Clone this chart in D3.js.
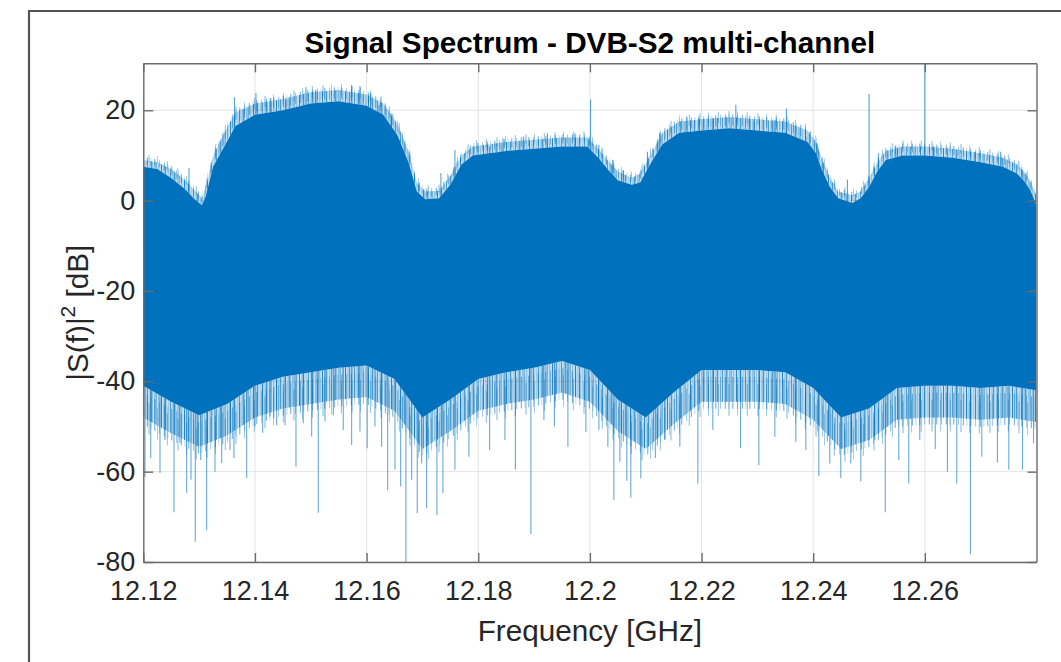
<!DOCTYPE html>
<html><head><meta charset="utf-8">
<script src="https://cdn.jsdelivr.net/npm/d3@7"></script>
<style>
html,body{margin:0;padding:0;background:#fff;}
svg{display:block;font-family:"Liberation Sans",Arial,Helvetica,sans-serif;}
</style></head><body>
<svg id="chart" width="1061" height="662"></svg>
<script>
// Axis ticks
const xTicks = [12.12, 12.14, 12.16, 12.18, 12.2, 12.22, 12.24, 12.26];
const xTickLabels = ["12.12", "12.14", "12.16", "12.18", "12.2", "12.22", "12.24", "12.26"];
const yTicks = [-80, -60, -40, -20, 0, 20];
const yTickLabels = ["-80", "-60", "-40", "-20", "0", "20"];

// Top edge of the dense spectrum band (GHz / dB) and the light tips just above it
const upperFreq = [12.1200, 12.1225, 12.1250, 12.1275, 12.1290, 12.1305, 12.1312, 12.1325, 12.1345, 12.1365,
  12.1400, 12.1450, 12.1500, 12.1550, 12.1600, 12.1630, 12.1655, 12.1675, 12.1690, 12.1705,
  12.1730, 12.1750, 12.1770, 12.1790, 12.1850, 12.1900, 12.1950, 12.1995, 12.2015, 12.2035,
  12.2050, 12.2075, 12.2090, 12.2110, 12.2130, 12.2160, 12.2200, 12.2250, 12.2300, 12.2350,
  12.2390, 12.2405, 12.2415, 12.2430, 12.2445, 12.2470, 12.2485, 12.2500, 12.2515, 12.2530,
  12.2560, 12.2600, 12.2650, 12.2700, 12.2740, 12.2765, 12.2780, 12.2790, 12.2800];
const upperDb = [7.5, 7.0, 5.0, 2.5, 0.5, -1.0, 1.0, 7.5, 12.0, 16.5,
  19.0, 20.0, 21.5, 22.0, 21.0, 19.0, 14.5, 8.5, 2.0, 0.3,
  0.5, 3.5, 8.0, 10.0, 11.0, 11.5, 12.0, 12.0, 9.5, 6.5,
  4.5, 3.5, 4.0, 8.5, 12.5, 15.0, 15.5, 16.0, 15.5, 15.0,
  13.0, 10.5, 7.0, 3.0, 0.5, -0.5, 0.5, 3.0, 6.5, 9.0,
  10.0, 10.0, 9.5, 8.5, 7.5, 6.0, 4.0, 2.0, -1.0];
const upperTipDb = [9.0, 8.5, 7.0, 4.5, 2.5, 0.5, 3.0, 10.0, 15.0, 19.5,
  21.5, 22.5, 24.0, 24.5, 23.5, 21.5, 17.0, 11.0, 4.0, 2.0,
  2.2, 5.5, 10.0, 12.0, 13.0, 13.5, 14.0, 14.0, 11.5, 8.5,
  6.5, 5.0, 6.0, 10.5, 15.0, 17.5, 18.0, 18.5, 18.0, 17.5,
  15.5, 13.0, 9.5, 5.0, 2.0, 1.2, 2.0, 5.0, 8.5, 11.0,
  12.0, 12.0, 11.5, 10.5, 9.5, 8.0, 6.0, 4.0, 1.0];

// Bottom edge of the dense band and the lower reach of the packed light traces
const lowerFreq = [12.120, 12.125, 12.130, 12.135, 12.140, 12.145, 12.150, 12.155, 12.160, 12.165,
  12.170, 12.175, 12.180, 12.185, 12.190, 12.195, 12.200, 12.205, 12.210, 12.215,
  12.220, 12.225, 12.230, 12.235, 12.240, 12.245, 12.250, 12.255, 12.260, 12.265,
  12.270, 12.275, 12.280];
const lowerDb = [-41, -44.5, -47.5, -45, -41, -39, -38, -37, -36.5, -39.5,
  -48, -44, -39.5, -38, -37, -35.5, -37.5, -44, -48, -42.5,
  -37.5, -37.5, -37.5, -38, -41.5, -48, -46, -41.5, -41, -41,
  -41.5, -41, -42];
const lowerTipDb = [-48, -51.5, -54.5, -52, -48, -46, -45, -44, -43.5, -46.5,
  -55, -51, -46.5, -45, -44, -42.5, -44.5, -51, -55, -49.5,
  -44.5, -44.5, -44.5, -45, -48.5, -55, -53, -48.5, -48, -48,
  -48.5, -48, -49];

// Isolated deep nulls (GHz, dB)
const dipSpikes = [
  [12.12030, -61.2], [12.12133, -57.0], [12.12299, -60.3], [12.12389, -53.0], [12.12550, -69.0],
  [12.12657, -53.6], [12.12777, -64.7], [12.12854, -61.8], [12.12931, -75.5], [12.13028, -57.4],
  [12.13135, -72.9], [12.13284, -60.0], [12.13404, -58.1], [12.13553, -55.2], [12.13624, -57.0],
  [12.13852, -61.4], [12.14000, -50.0], [12.14138, -51.4], [12.14269, -47.8], [12.14389, -49.7],
  [12.14538, -49.7], [12.14735, -58.9], [12.14865, -49.3], [12.15016, -52.2], [12.15134, -69.1],
  [12.15254, -48.9], [12.15403, -47.5], [12.15582, -50.8], [12.15732, -54.1], [12.15881, -51.1],
  [12.16011, -54.8], [12.16149, -50.0], [12.16269, -54.5], [12.16377, -64.1], [12.16508, -59.6],
  [12.16610, -63.3], [12.16704, -80.0], [12.16807, -61.8], [12.16907, -69.2], [12.16986, -58.2],
  [12.17075, -68.1], [12.17260, -69.6], [12.17367, -64.7], [12.17582, -59.6], [12.17833, -56.7],
  [12.18203, -55.2], [12.18478, -53.0], [12.18665, -59.6], [12.18943, -73.8], [12.19176, -48.6],
  [12.19364, -50.0], [12.19606, -54.5], [12.19928, -51.2], [12.20161, -50.8], [12.20322, -54.5],
  [12.20429, -66.3], [12.20537, -57.8], [12.20662, -62.0], [12.20733, -65.8], [12.20912, -61.5],
  [12.21172, -57.0], [12.21343, -53.0], [12.21611, -54.5], [12.21934, -62.6], [12.22202, -50.8],
  [12.22698, -54.8], [12.23026, -58.5], [12.23313, -52.3], [12.23689, -53.4], [12.23868, -55.2],
  [12.24101, -61.0], [12.24297, -58.2], [12.24494, -61.4], [12.24673, -58.2], [12.24853, -62.2],
  [12.25104, -53.0], [12.25291, -69.0], [12.25533, -57.4], [12.25712, -62.6], [12.25909, -53.0],
  [12.26187, -55.0], [12.26404, -60.0], [12.26572, -62.6], [12.26817, -78.2], [12.27020, -56.7],
  [12.27300, -58.0], [12.27504, -59.6], [12.27750, -59.6], [12.27947, -53.7]
];

// Isolated peaks and carrier lines (GHz, dB)
const peakSpikes = [
  [12.12000, 19.0], [12.12818, 7.2], [12.13633, 22.9], [12.14018, 23.8], [12.14282, 22.7],
  [12.14556, 22.3], [12.14914, 25.1], [12.15084, 24.5], [12.15732, 25.6], [12.15881, 25.4],
  [12.16072, 23.8], [12.16221, 21.2], [12.16436, 19.4], [12.16597, 13.4], [12.17027, 2.4],
  [12.17331, 6.1], [12.17582, 11.2], [12.18203, 12.0], [12.18442, 13.8], [12.18807, 14.2],
  [12.19240, 14.9], [12.19731, 14.9], [12.20012, 22.4], [12.20161, 12.3], [12.20412, 9.0],
  [12.20598, 6.8], [12.21031, 10.8], [12.21248, 15.0], [12.21737, 18.6], [12.21952, 18.2],
  [12.22202, 18.2], [12.22614, 21.2], [12.22945, 17.5], [12.23313, 17.9], [12.23520, 20.4],
  [12.23868, 14.2], [12.24058, 12.7], [12.24180, 8.3], [12.24613, 4.7], [12.25001, 23.6],
  [12.25168, 10.5], [12.25480, 12.0], [12.26000, 30.4], [12.26157, 12.0], [12.26894, 10.8],
  [12.27360, 10.8], [12.27754, 6.8]
];

const blue = "#0072BD";
const axisGray = "#6b6b6b";
const textColor = "#262626";

const svg = d3.select("#chart");
const plot = { left: 143.3, right: 1036.5, top: 63.3, bottom: 562 };

const x = d3.scaleLinear().domain([12.12, 12.28]).range([plot.left, plot.right]);
const y = d3.scaleLinear().domain([-80, 30.4]).range([plot.bottom, plot.top]);

// Figure frame
svg.append("path")
  .attr("d", `M29,662 L29,11 L1061,11`)
  .attr("fill", "none").attr("stroke", "#555").attr("stroke-width", 2.2);

const defs = svg.append("defs");
defs.append("clipPath").attr("id", "plotClip")
  .append("rect").attr("x", plot.left).attr("y", plot.top)
  .attr("width", plot.right - plot.left).attr("height", plot.bottom - plot.top);

// Vertical hatchings: the edge of a densely sampled trace reads as thin strokes.
// Three layers with unrelated periods, stacked with small offsets, give a ragged edge.
function addHatch(id, period, strokes) {
  const p = defs.append("pattern").attr("id", id)
    .attr("patternUnits", "userSpaceOnUse").attr("width", period).attr("height", 50);
  strokes.forEach(([px, w, o]) => p.append("rect")
    .attr("x", px).attr("y", 0).attr("width", w).attr("height", 50)
    .attr("fill", blue).attr("fill-opacity", o));
}
addHatch("hatchA", 23, [[0, 1.0, 0.8], [2.6, 0.8, 0.4], [4.1, 1.1, 0.7], [7.4, 0.8, 0.3],
  [9.0, 1.0, 0.6], [11.7, 0.9, 0.45], [13.2, 1.2, 0.75], [16.0, 0.8, 0.35], [17.6, 1.0, 0.65],
  [20.3, 0.9, 0.4]]);
addHatch("hatchB", 17, [[1.3, 1.0, 0.6], [6.2, 0.9, 0.45], [10.8, 1.1, 0.55], [14.5, 0.8, 0.35]]);
addHatch("hatchC", 29, [[3.5, 1.0, 0.5], [12.1, 0.9, 0.4], [21.8, 1.0, 0.45]]);

// Grid
const grid = svg.append("g").attr("stroke", "#e3e3e3").attr("stroke-width", 1);
xTicks.forEach(t => grid.append("line")
  .attr("x1", x(t)).attr("x2", x(t)).attr("y1", plot.top).attr("y2", plot.bottom));
yTicks.forEach(t => grid.append("line")
  .attr("x1", plot.left).attr("x2", plot.right).attr("y1", y(t)).attr("y2", y(t)));

const data = svg.append("g").attr("clip-path", "url(#plotClip)");

// Light fringes (packed traces at the band edges)
const upperPts = upperFreq.map((f, i) => ({ f, lo: upperDb[i], hi: upperTipDb[i] }));
const lowerPts = lowerFreq.map((f, i) => ({ f, hi: lowerDb[i], lo: lowerTipDb[i] }));
const fringeArea = d3.area().x(d => x(d.f)).y0(d => y(d.lo)).y1(d => y(d.hi));

function fringe(pts, step) {
  const g = data.append("g");
  g.append("path").datum(pts).attr("d", fringeArea)
    .attr("fill", blue).attr("fill-opacity", 0.22);
  g.append("path").datum(pts).attr("d", fringeArea).attr("fill", "url(#hatchA)");
  g.append("path").datum(pts).attr("d", fringeArea).attr("fill", "url(#hatchB)")
    .attr("transform", `translate(0,${step})`);
  g.append("path").datum(pts).attr("d", fringeArea).attr("fill", "url(#hatchC)")
    .attr("transform", `translate(0,${2 * step})`);
}
fringe(lowerPts, 7);
fringe(upperPts, -3);

// Isolated nulls and peaks
data.append("g").selectAll("line").data(dipSpikes).join("line")
  .attr("x1", d => x(d[0])).attr("x2", d => x(d[0]))
  .attr("y1", y(-30)).attr("y2", d => y(d[1]))
  .attr("stroke", blue).attr("stroke-width", 1.1).attr("stroke-opacity", 0.6);
data.append("g").selectAll("line").data(peakSpikes).join("line")
  .attr("x1", d => x(d[0])).attr("x2", d => x(d[0]))
  .attr("y1", y(-10)).attr("y2", d => y(d[1]))
  .attr("stroke", blue).attr("stroke-width", 1.1).attr("stroke-opacity", 0.65);

// Dense core of the spectrum
const topEdge = upperFreq.map((f, i) => [f, upperDb[i]]);
const bottomEdge = lowerFreq.map((f, i) => [f, lowerDb[i]]).reverse();
const bandLine = d3.line().x(d => x(d[0])).y(d => y(d[1]));
data.append("path").attr("d", bandLine(topEdge.concat(bottomEdge)) + "Z")
  .attr("fill", blue);

// Axes: ticks point inward, box on all four sides
const tickFont = 27;
function styleAxis(g) {
  g.select(".domain").attr("stroke", axisGray).attr("stroke-width", 1.4);
  g.selectAll(".tick line").attr("stroke", axisGray).attr("stroke-width", 1.4);
  g.selectAll(".tick text").attr("fill", textColor)
    .style("font-size", tickFont + "px")
    .style("font-family", '"Liberation Sans", Arial, Helvetica, sans-serif');
}

svg.append("g").attr("transform", `translate(0,${plot.bottom})`)
  .call(d3.axisBottom(x).tickValues(xTicks).tickSizeInner(-9).tickSizeOuter(0).tickPadding(19)
    .tickFormat((d, i) => xTickLabels[i]))
  .call(styleAxis);
svg.append("g").attr("transform", `translate(0,${plot.top})`)
  .call(d3.axisTop(x).tickValues(xTicks).tickSizeInner(-9).tickSizeOuter(0).tickFormat(""))
  .call(styleAxis);
svg.append("g").attr("transform", `translate(${plot.left},0)`)
  .call(d3.axisLeft(y).tickValues(yTicks).tickSizeInner(-10).tickSizeOuter(0).tickPadding(8)
    .tickFormat((d, i) => yTickLabels[i]))
  .call(styleAxis);
svg.append("g").attr("transform", `translate(${plot.right},0)`)
  .call(d3.axisRight(y).tickValues(yTicks).tickSizeInner(-9).tickSizeOuter(0).tickFormat(""))
  .call(styleAxis);

// Title and labels
svg.append("text")
  .attr("x", (plot.left + plot.right) / 2).attr("y", 52.5)
  .attr("text-anchor", "middle").attr("font-weight", "bold")
  .attr("font-size", 29.7).attr("fill", "#000")
  .text("Signal Spectrum - DVB-S2 multi-channel");

svg.append("text")
  .attr("x", (plot.left + plot.right) / 2).attr("y", 641)
  .attr("text-anchor", "middle").attr("font-size", 29.7).attr("fill", textColor)
  .text("Frequency [GHz]");

const yl = svg.append("text")
  .attr("transform", `translate(88,${(plot.top + plot.bottom) / 2}) rotate(-90)`)
  .attr("text-anchor", "middle").attr("font-size", 29.7).attr("fill", textColor);
yl.append("tspan").text("|S(f)|");
yl.append("tspan").attr("dy", -13).attr("font-size", 21).text("2");
yl.append("tspan").attr("dy", 13).text(" [dB]");
</script>
</body></html>
